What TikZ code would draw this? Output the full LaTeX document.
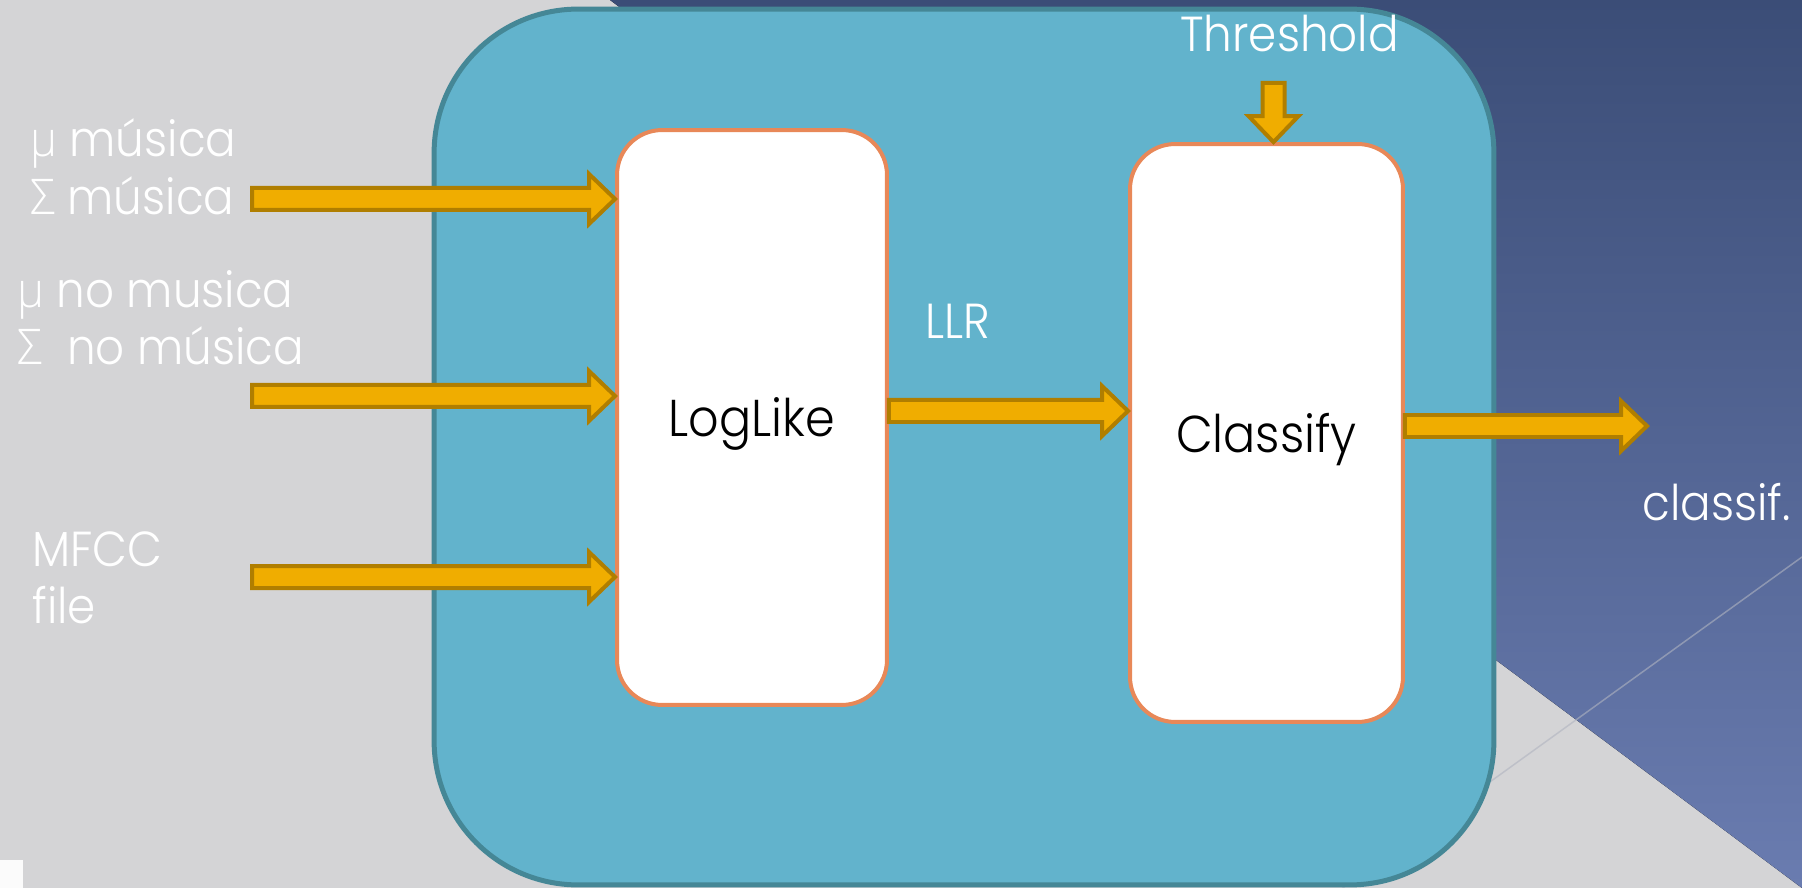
\documentclass[tikz,border=0pt]{standalone}
\usepackage{fontspec}
\setmainfont{Poppins}[UprightFont={* Light},FakeStretch=0.92]
\newfontfamily\grk{Open Sans}[UprightFont={* Light},FakeStretch=0.92]
\usetikzlibrary{calc}

\definecolor{bggray}{RGB}{212,212,214}
\definecolor{navytop}{RGB}{59,77,119}
\definecolor{navybot}{RGB}{106,124,176}
\definecolor{streak}{RGB}{176,180,192}
\definecolor{tealfill}{RGB}{98,179,204}
\definecolor{tealedge}{RGB}{69,135,150}
\definecolor{boxedge}{RGB}{232,136,88}
\definecolor{arrowfill}{RGB}{240,173,0}
\definecolor{arrowedge}{RGB}{176,126,0}

% 粗箭头：水平 / 竖直
\newcommand\harrow[2]{%
  \path[fat] ($(#1)+(0,-11)$) -- ($(#2)+(-26,-11)$) -- ($(#2)+(-26,-25)$) -- (#2)
    -- ($(#2)+(-26,25)$) -- ($(#2)+(-26,11)$) -- ($(#1)+(0,11)$) -- cycle;}
\newcommand\varrow[2]{%
  \path[fat] ($(#1)+(-11,0)$) -- ($(#2)+(-11,-26)$) -- ($(#2)+(-25,-26)$) -- (#2)
    -- ($(#2)+(25,-26)$) -- ($(#2)+(11,-26)$) -- ($(#1)+(11,0)$) -- cycle;}

\begin{document}
\begin{tikzpicture}[x=0.02cm,y=-0.02cm,line join=miter,
  every node/.style={font=\fontsize{28}{32}\selectfont},
  box/.style={draw=boxedge,line width=0.08cm,fill=white,rounded corners=0.9cm,
    inner sep=0pt,text depth=0pt,font=\fontsize{29.5}{32}\selectfont},
  lbl/.style={anchor=base west,inner sep=0pt,text=white},
  fat/.style={fill=arrowfill,draw=arrowedge,line width=0.08cm}]
  \useasboundingbox (0,0) rectangle (1802,888);
  % 背景
  \fill[bggray] (0,0) rectangle (1802,888);
  \fill[top color=navytop,bottom color=navybot] (610,0) -- (1802,0) -- (1802,888) -- cycle;
  \draw[streak,opacity=0.6,line width=0.03cm] (1802,557) -- (1340,890);
  \fill[white!90!bggray] (0,860) rectangle (23,888);
  % 外框与两个模块
  \node[draw=tealedge,fill=tealfill,line width=0.1cm,rounded corners=2.88cm,
    minimum width=21.2cm,minimum height=17.52cm,inner sep=0pt] (panel) at (964,447) {};
  \node[box,minimum width=5.4cm,minimum height=11.5cm] (loglike) at (752,417.5) {LogLike};
  \node[box,minimum width=5.46cm,minimum height=11.56cm] (classify) at (1266.5,433) {Classify};
  % 箭头
  \coordinate (in1) at (252,199);
  \coordinate (in2) at (252,396);
  \coordinate (in3) at (252,577);
  \coordinate (llrrow) at (1000,411);
  \coordinate (outtip) at (1647,426);
  \coordinate (thrtop) at (1273.5,83);
  \harrow{in1}{loglike.west |- in1}
  \harrow{in2}{loglike.west |- in2}
  \harrow{in3}{loglike.west |- in3}
  \harrow{loglike.east |- llrrow}{classify.west |- llrrow}
  \harrow{classify.east |- outtip}{outtip}
  \varrow{thrtop}{thrtop |- classify.north}
  % 文字
  \node[lbl] (mu1) at (30,157) {{\grk µ} música};
  \node[lbl] (sig1) at (30,215) {{\grk Σ} música};
  \node[lbl] (mu2) at (17,308) {{\grk µ} no musica};
  \node[lbl] (sig2) at (17,365) {{\grk Σ}~~no música};
  \node[lbl] (mfcc) at (32,566) {MFCC};
  \node[lbl] (file) at (32,623) {file};
  \node[lbl] (llr) at (925,339) {LLR};
  \node[lbl] (thr) at (1180,52) {Threshold};
  \node[lbl] (cls) at (1642,520) {classif.};
\end{tikzpicture}
\end{document}
